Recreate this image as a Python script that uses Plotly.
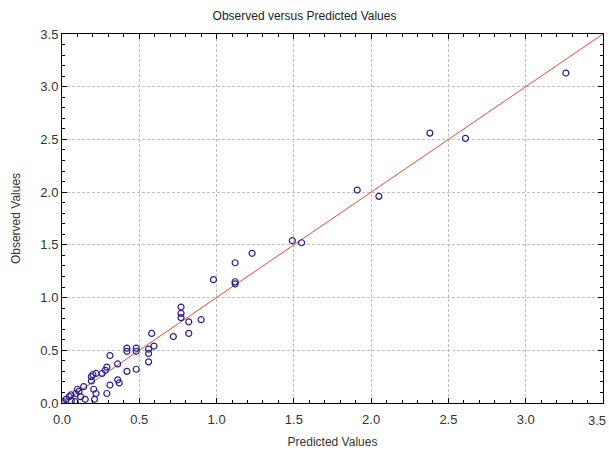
import plotly.graph_objects as go

predicted = [3.26, 2.61, 2.38, 2.05, 1.91, 1.55, 1.49, 1.23, 1.12, 1.12, 1.12, 0.98,
             0.77, 0.77, 0.77, 0.82, 0.90, 0.82, 0.72, 0.58, 0.595, 0.56, 0.56, 0.56,
             0.48, 0.48, 0.42, 0.42, 0.48, 0.42, 0.31, 0.36, 0.29, 0.28, 0.26, 0.22,
             0.20, 0.19, 0.19, 0.31, 0.36, 0.37, 0.29, 0.205, 0.22, 0.21, 0.14, 0.10,
             0.11, 0.09, 0.15, 0.086, 0.047, 0.058, 0.026, 0.008, 0.0, 0.12, 0.06]
observed = [3.13, 2.51, 2.56, 1.96, 2.02, 1.52, 1.54, 1.42, 1.33, 1.15, 1.13, 1.17,
            0.91, 0.85, 0.81, 0.77, 0.79, 0.66, 0.63, 0.66, 0.54, 0.51, 0.47, 0.39,
            0.52, 0.49, 0.52, 0.49, 0.32, 0.30, 0.45, 0.37, 0.34, 0.31, 0.28, 0.28,
            0.27, 0.25, 0.21, 0.17, 0.22, 0.19, 0.09, 0.13, 0.09, 0.035, 0.155, 0.13,
            0.11, 0.09, 0.035, 0.012, 0.06, 0.076, 0.035, 0.012, 0.0, 0.06, 0.02]
line_x = [0.0, 3.5]
line_y = [0.0, 3.5]
ticks = [0.0, 0.5, 1.0, 1.5, 2.0, 2.5, 3.0, 3.5]
tick_text = ["0.0", "0.5", "1.0", "1.5", "2.0", "2.5", "3.0", "3.5"]

fig = go.Figure()
fig.add_trace(go.Scatter(x=line_x, y=line_y, mode="lines",
                         line=dict(color="#e8483a", width=1), showlegend=False))
fig.add_trace(go.Scatter(x=predicted, y=observed, mode="markers",
                         marker=dict(symbol="circle-open", size=6, color="#2a1f8a",
                                     line=dict(width=1.2, color="#2a1f8a")),
                         showlegend=False))

tick_font = dict(size=13, color="#333333", family="Liberation Sans")
axis_common = dict(
    range=[-0.0002, 3.5002], tickvals=ticks,
    showline=True, linecolor="black", linewidth=1, mirror="allticks",
    ticks="inside", ticklen=5, tickcolor="black", tickwidth=1,
    minor=dict(dtick=0.1, tick0=0, ticks="inside", ticklen=3, tickcolor="black", showgrid=False),
    showgrid=True, gridcolor="#bdbdc8", gridwidth=1, griddash="3px,2px",
    zeroline=False, tickfont=tick_font,
)

# last x tick label is drawn as an annotation nudged left so it stays inside the page
x_tick_text = tick_text[:-1] + [""]
fig.update_xaxes(**axis_common, ticktext=x_tick_text, ticklabelstandoff=4,
                 title=dict(text="Predicted Values", standoff=12,
                            font=dict(size=12, color="#333333", family="Liberation Sans")))
fig.update_yaxes(**axis_common, ticktext=tick_text,
                 title=dict(text="Observed Values", standoff=17,
                            font=dict(size=12, color="#333333", family="Liberation Sans")))

fig.add_annotation(x=ticks[-1], xref="x", y=0, yref="paper", text=tick_text[-1],
                   showarrow=False, xanchor="center", yanchor="middle",
                   xshift=-6, yshift=-17, font=tick_font)

fig.update_layout(
    width=609, height=452,
    margin=dict(l=62, r=6, t=34, b=49, autoexpand=False),
    paper_bgcolor="white", plot_bgcolor="white",
    title=dict(text="Observed versus Predicted Values", x=0.5, xanchor="center",
               y=0.975, yanchor="top",
               font=dict(size=12, color="#222222", family="Liberation Sans")),
    font=dict(family="Liberation Sans"),
)

fig.write_html("out.html")
